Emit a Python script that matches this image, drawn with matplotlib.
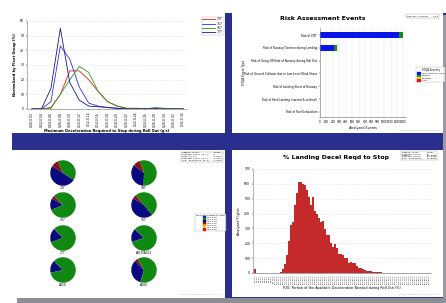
import matplotlib
matplotlib.use('Agg')
import matplotlib.pyplot as plt
from matplotlib.patches import Rectangle, Patch

W, H = 446, 303

# ---- data: top-left line chart ----
decel_bins = ['%.2f-%.2f' % (i * 0.02, (i + 1) * 0.02) for i in range(17)]
fleet_737 = [0, 0, 1, 10, 26, 26, 20, 12, 5, 2, 0.5, 0.5, 0.3, 0.3, 0, 0, 0]
fleet_757 = [0, 0, 5, 43, 34, 15, 4, 2, 1, 0.5, 0, 0, 0, 0, 0, 0, 0]
fleet_767 = [0, 0, 0.5, 10, 20, 29, 25, 12, 5, 2, 0.5, 0, 0, 1, 0.5, 0, 0]
fleet_777 = [0, 0, 14, 55, 18, 6, 2, 1.5, 1, 0.5, 0, 0, 0, 0, 0, 0, 0]

# ---- data: top-right risk events ----
risk_types = ['Risk of CFIT',
              'Risk of Runway Overrun during Landing',
              'Risk of Going Off Side of Runway during Roll Out',
              'Risk of Ground Collision due to Low Level Wind Shear',
              'Risk of Landing Short of Runway',
              'Risk of Hard Landing (normal & vertical)',
              'Risk of Fuel Exhaustion']
risk_info = [1235, 225, 6, 6, 4, 3, 2]
risk_caution = [65, 45, 0, 0, 0, 0, 0]
severity_labels = ['Informational Only', 'Caution', 'Warning', 'Alert']
severity_colors = ['#0a14e6', '#1a8a1a', '#e6e600', '#e61414']

# ---- data: bottom-left pies ----
pie_fleets = ['737', '747', '757', '767', '777', 'A319/A321', 'A320', 'A340']
pie_red = [0.09, 0.09, 0.04, 0.05, 0.005, 0.005, 0.0, 0.04]
pie_navy = [0.50, 0.35, 0.15, 0.45, 0.18, 0.17, 0.16, 0.33]
pie_start = [115, 110, 135, 130, 133, 135, 135, 120]
decel_legend = ['0.00-0.05', '0.05-0.10', '0.10-0.15', '0.15-0.20',
                '0.20-0.25', '0.25-0.30', '0.30-0.35']
decel_colors = ['#1010e0', '#148a14', '#0a0a70', '#801010', '#e09010', '#f0e010', '#e01010']

# ---- data: bottom-right histogram ----
pct_counts = [25] + [0] * 12 + [
    10, 25, 60, 120, 215, 320, 340, 455, 540, 615, 615, 600, 595, 560, 510,
    460, 510, 415, 400, 370, 340, 350, 295, 255, 255, 200, 175, 195, 170, 130,
    130, 120, 100, 100, 70, 75, 65, 65, 50, 35, 35, 25, 20, 15, 12, 12, 10, 8,
    5, 5, 4, 3, 3, 2, 2, 1, 1, 1, 1, 1, 1, 1, 0, 1, 0, 0, 0, 0, 0, 0, 0, 0, 0, 0, 0]
pct_bins = ['%d.0-%d.0' % (i, i + 1) for i in range(len(pct_counts))]


def rect(x0, y0, x1, y1):
    return [x0 / W, 1 - y1 / H, (x1 - x0) / W, (y1 - y0) / H]


def px(x, y):
    return x / W, 1 - y / H


def block(fig, x0, y0, x1, y1, color):
    fig.patches.append(Rectangle(px(x0, y1), (x1 - x0) / W, (y1 - y0) / H,
                                 transform=fig.transFigure, facecolor=color,
                                 edgecolor='none', zorder=-10))


def stats_box(fig, x, y, rows):
    fig.text(*px(x, y), '\n'.join(rows), fontsize=1.6, va='top', ha='left',
             family='DejaVu Sans Mono', linespacing=1.3,
             bbox=dict(facecolor='white', edgecolor='#999999', linewidth=0.3, pad=0.6))


def style_axes(ax):
    for s in ['top', 'right']:
        ax.spines[s].set_visible(False)
    for s in ['left', 'bottom']:
        ax.spines[s].set_linewidth(0.4)
        ax.spines[s].set_color('#777777')
    ax.set_facecolor('none')


fig = plt.figure(figsize=(W / 100, H / 100), dpi=100, facecolor='white')

# slide background
block(fig, 12, 13, 446, 298, '#2a2e8e')
block(fig, 443, 15, 446, 298, '#9a9aa4')
block(fig, 17, 298, 446, 303, '#8e8e96')
block(fig, 12, 13, 225, 133, 'white')
block(fig, 232, 13, 443, 133, 'white')
block(fig, 12, 150, 225, 298, 'white')
block(fig, 232, 150, 443, 297, 'white')

grid_kw = dict(color='#cccccc', linestyle=':', linewidth=0.4)

# ---------- top-left: line chart ----------
ax1 = fig.add_axes(rect(27, 21, 187, 109))
xs = range(len(decel_bins))
ax1.plot(xs, fleet_737, color='#e02020', lw=0.6, label='737')
ax1.plot(xs, fleet_757, color='#3030e0', lw=0.6, label='757')
ax1.plot(xs, fleet_767, color='#20a020', lw=0.6, label='767')
ax1.plot(xs, fleet_777, color='#161690', lw=0.6, label='777')
ax1.set_xlim(-0.53, 16.4)
ax1.set_ylim(0, 60)
ax1.set_yticks(range(0, 61, 10))
ax1.set_xticks(list(xs))
ax1.set_xticklabels(decel_bins, rotation=90)
ax1.tick_params(labelsize=2.2, length=1, width=0.3, pad=1)
ax1.yaxis.grid(True, **grid_kw)
style_axes(ax1)
ax1.set_xlabel("Maximum Deceleration Required to Stop during Roll Out (g's)",
               fontsize=2.6, fontweight='bold', labelpad=1.5)
ax1.set_ylabel('Normalized by Fleet Group (%)', fontsize=2.6, fontweight='bold', labelpad=2)
lg1 = fig.legend(handles=ax1.get_lines(), loc='upper left', bbox_to_anchor=px(200, 15),
                 fontsize=2.2, handlelength=4, frameon=True, borderpad=0.3,
                 labelspacing=0.1, fancybox=False, edgecolor='#999999')
lg1.get_frame().set_linewidth(0.3)

# ---------- top-right: risk events ----------
ax2 = fig.add_axes(rect(320, 28, 406, 117))
ys = range(len(risk_types))
ax2.barh(ys, risk_info, height=0.52, color=severity_colors[0])
ax2.barh(ys, risk_caution, left=risk_info, height=0.52, color=severity_colors[1])
ax2.set_ylim(6.4, -0.55)
ax2.set_xlim(0, 1340)
ax2.set_xticks(range(0, 1301, 100))
ax2.set_yticks(list(ys))
ax2.set_yticklabels(risk_types)
ax2.tick_params(labelsize=2.0, length=1, width=0.3, pad=1)
ax2.xaxis.grid(True, color='#dddddd', linewidth=0.3)
ax2.set_axisbelow(True)
style_axes(ax2)
ax2.set_xlabel('Analyzed Events', fontsize=2.4, labelpad=1.5)
fig.text(*px(244, 72), 'FOQA Event Type', fontsize=2.2, rotation=90, ha='center', va='center')
fig.text(*px(323, 19), 'Risk Assessment Events', fontsize=4.5, fontweight='bold',
         ha='center', va='center')
fig.text(*px(407, 15), 'Data for: All Fleets       1/10', fontsize=1.6, va='top',
         bbox=dict(facecolor='white', edgecolor='#999999', linewidth=0.3, pad=0.6))
lg2 = fig.legend(handles=[Patch(color=c, label=l) for c, l in zip(severity_colors, severity_labels)],
                 title='FOQA Severity', loc='upper left', bbox_to_anchor=px(415, 66),
                 fontsize=1.7, title_fontsize=1.8, handlelength=1.2, handleheight=0.9,
                 borderpad=0.4, labelspacing=0.1, fancybox=False, edgecolor='#999999')
lg2.get_frame().set_linewidth(0.3)
fig.text(*px(441, 131), 'Analysis produced 4:51:55 PM Jan 10, 2007', fontsize=1.4,
         color='#aaaaaa', ha='right', va='bottom')

# ---------- bottom-left: pies ----------
centers = [(63, 173), (144, 173), (63, 205), (144, 205),
           (63, 238), (144, 238), (63, 270), (144, 270)]
for (cx, cy), name, r, n, st in zip(centers, pie_fleets, pie_red, pie_navy, pie_start):
    axp = fig.add_axes(rect(cx - 13, cy - 13, cx + 13, cy + 13))
    axp.pie([r, n, 1 - r - n], colors=['#8b1010', '#0a0a80', '#118811'],
            startangle=st, radius=1, wedgeprops=dict(linewidth=0))
    axp.set_xlim(-1.02, 1.02)
    axp.set_ylim(-1.02, 1.02)
    axp.set_aspect('equal')
    axp.axis('off')
    fig.text(*px(cx, cy + 15), name, fontsize=2.2, ha='center', va='center')

stats_box(fig, 182, 152, ['Sample Count:          13845',
                          "Minimum Value (g's):   0",
                          "Mean (g's):            0.0914",
                          "Maximum Value (g's):   0.4795",
                          "Std. Deviation (g's):  0.0318"])
lg3 = fig.legend(handles=[Patch(color=c, label=l) for c, l in zip(decel_colors, decel_legend)],
                 title='Max Decel Reqd to Stop', loc='upper left', bbox_to_anchor=px(194, 213),
                 fontsize=1.6, title_fontsize=1.7, handlelength=1.2, handleheight=0.9,
                 borderpad=0.4, labelspacing=0.05, fancybox=False, edgecolor='#999999')
lg3.get_frame().set_linewidth(0.3)
fig.text(*px(222, 295), 'Analysis produced 4:51:55 PM Jan 10, 2007', fontsize=1.4,
         color='#aaaaaa', ha='right', va='bottom')

# ---------- bottom-right: histogram ----------
ax4 = fig.add_axes(rect(253, 169, 431, 273))
xb = range(len(pct_counts))
ax4.bar(xb, pct_counts, width=0.6, color='#c42a2a', edgecolor='none')
ax4.set_xlim(-1, 88)
ax4.set_ylim(0, 700)
ax4.set_yticks(range(0, 701, 100))
ax4.set_xticks(list(xb))
ax4.set_xticklabels(pct_bins, rotation=90)
ax4.tick_params(axis='x', labelsize=1.4, length=0.8, width=0.2, pad=0.5)
ax4.tick_params(axis='y', labelsize=2.2, length=1, width=0.3, pad=1)
ax4.yaxis.grid(True, **grid_kw)
ax4.set_axisbelow(True)
style_axes(ax4)
ax4.set_xlabel('P20: Portion of the Available Deceleration Needed during Roll Out (%)',
               fontsize=2.4, labelpad=1.5)
ax4.set_ylabel('Analyzed Flights', fontsize=2.4, labelpad=2)
fig.text(*px(336, 157), '% Landing Decel Reqd to Stop', fontsize=4.5, fontweight='bold',
         ha='center', va='center')
stats_box(fig, 402, 152, ['Sample Count:     13847',
                          'Minimum Value:    0',
                          'Mean:             33.3586',
                          'Maximum Value:    93.4281',
                          'Std. Deviation:   12.0923'])
fig.text(*px(440, 295), 'Analysis produced 4:51:55 PM Jan 10, 2007', fontsize=1.4,
         color='#aaaaaa', ha='right', va='bottom')

fig.savefig('out.png', dpi=100, facecolor='white')
